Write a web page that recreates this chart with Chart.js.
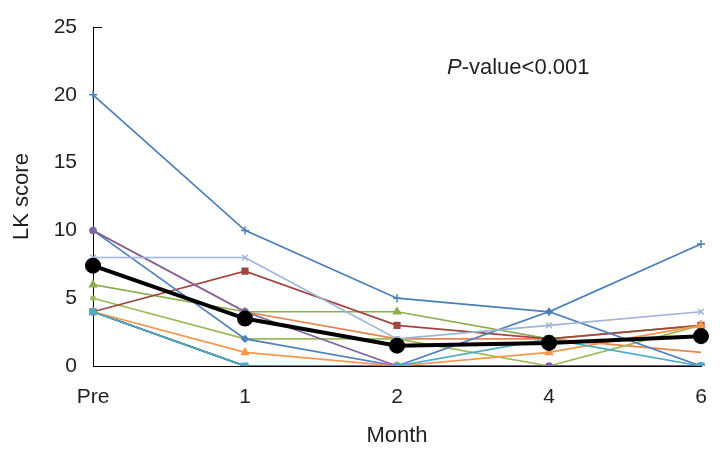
<!DOCTYPE html>
<html>
<head>
<meta charset="utf-8">
<script src="https://cdn.jsdelivr.net/npm/chart.js@4"></script>
<style>
  html, body { margin: 0; padding: 0; background: #ffffff; }
  #wrap { position: relative; width: 722px; height: 459px; }
</style>
</head>
<body>
<div id="wrap"><canvas id="c" width="722" height="459"></canvas></div>
<script>
const categories = ["Pre", "1", "2", "4", "6"];
const yTicks = [0, 5, 10, 15, 20, 25];

const meanScore = [7.4, 3.5, 1.5, 1.7, 2.2];
const patientA = [20, 10, 5, 4, 9];
const patientB = [10, 2, 0, 4, 0];
const patientC = [10, 4, 0, 0, 0];
const patientD = [8, 8, 2, 3, 4];
const patientE = [4, 7, 3, 2, 3];
const patientF = [6, 4, 4, 2, 3];
const patientG = [5, 2, 2, 0, 3];
const patientH = [4, 1, 0, 1, 3];
const patientI = [4, 0, 0, 2, 0];
const patientJ = [10, 4, 2, 2, 1];
const patientK = [4, 0, 0, 0, 0];
const patientL = [4, 0, 0, 0, 0];

const FONT = "'Liberation Sans', Arial, Helvetica, sans-serif";
const TXT = "#231f20";

function ser(data, color, style, radius, order) {
  return {
    data: data, borderColor: color, backgroundColor: color,
    borderWidth: 1.7, pointStyle: style, pointRadius: radius,
    pointBorderWidth: 1.5, pointHoverRadius: radius, tension: 0, order: order
  };
}

const datasets = [
  { data: meanScore, borderColor: "#000000", backgroundColor: "#000000", borderWidth: 4,
    pointStyle: "circle", pointRadius: 6, pointHoverRadius: 6, tension: 0, order: 0 },
  ser(patientA, "#4a7ebb", "cross", 4, 5),
  ser(patientB, "#4f81bd", "rectRot", 3, 6),
  ser(patientC, "#8064a2", "circle", 3, 4),
  ser(patientD, "#9db5d8", "crossRot", 4, 3),
  ser(patientE, "#a0463f", "rect", 4, 7),
  ser(patientF, "#8cae4f", "triangle", 4, 8),
  ser(patientG, "#9bbb59", "star", 3, 9),
  ser(patientH, "#f79646", "triangle", 4, 2),
  ser(patientI, "#4bacc6", "rect", 4, 1),
  ser(patientJ, "#e8834a", "circle", 0, 10),
  ser(patientK, "#2c4d75", "circle", 0, 11),
  ser(patientL, "#772c2a", "circle", 0, 12)
];

const annotationPlugin = {
  id: "pvalue",
  afterDraw(chart) {
    const ctx = chart.ctx;
    const x = chart.scales.x, y = chart.scales.y;
    ctx.save();
    ctx.fillStyle = TXT;
    ctx.textBaseline = "middle";
    const px = 447, py = 68;
    ctx.font = "italic 22px " + FONT;
    ctx.fillText("P", px, py);
    const w = ctx.measureText("P").width;
    ctx.font = "22px " + FONT;
    ctx.fillText("-value<0.001", px + w, py);
    const ty = y.getPixelForValue(yTicks[yTicks.length - 1]);
    ctx.strokeStyle = "#000000";
    ctx.lineWidth = 1;
    ctx.beginPath();
    ctx.moveTo(x.left, Math.round(ty) + 0.5);
    ctx.lineTo(x.left + 9, Math.round(ty) + 0.5);
    ctx.stroke();
    ctx.restore();
  }
};

new Chart(document.getElementById("c"), {
  type: "line",
  data: { labels: categories, datasets: datasets },
  options: {
    responsive: false,
    animation: false,
    events: [],
    layout: { padding: { top: 27, right: 21, left: 0, bottom: 0 } },
    plugins: { legend: { display: false }, tooltip: { enabled: false } },
    scales: {
      x: {
        offset: false,
        grid: { display: false, drawTicks: false },
        border: { display: true, color: "#000000", width: 1 },
        ticks: { color: TXT, font: { family: FONT, size: 21 }, padding: 19, maxRotation: 0 },
        title: { display: true, text: "Month", color: TXT, font: { family: FONT, size: 22 }, padding: { top: 4, bottom: 10 } },
        afterFit(s) { s.height = 93; s.paddingLeft = 0; s.paddingRight = 0; }
      },
      y: {
        min: 0, max: 25,
        afterBuildTicks(s) { s.ticks = yTicks.map(v => ({ value: v })); },
        grid: { display: false, drawTicks: false },
        border: { display: true, color: "#000000", width: 1 },
        ticks: { color: TXT, font: { family: FONT, size: 21 }, padding: 16 },
        title: { display: true, text: "LK score", color: TXT, font: { family: FONT, size: 22 }, padding: { top: 9, bottom: 0 } },
        afterFit(s) { s.width = 93; s.paddingTop = 0; s.paddingBottom = 0; }
      }
    }
  },
  plugins: [annotationPlugin]
});
</script>
</body>
</html>
